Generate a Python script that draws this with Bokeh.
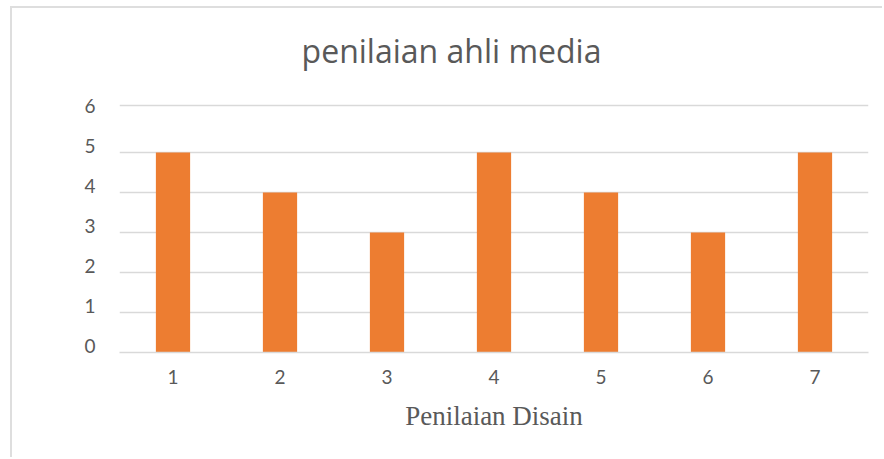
from bokeh.plotting import figure
from bokeh.models import FixedTicker, Label
from bokeh.embed import file_html
from bokeh.resources import INLINE

categories = ["1", "2", "3", "4", "5", "6", "7"]
values = [5, 4, 3, 5, 4, 3, 5]
y_ticks = [0, 1, 2, 3, 4, 5, 6]
title_text = "penilaian ahli media"
x_label = "Penilaian Disain"

# the reference draws its value labels a little above each gridline,
# and its top gridline a little higher than a linear step
label_lift = 0.175
top_grid = 6.175

p = figure(
    x_range=categories,
    y_range=(0, 8.6),
    width=872,
    height=451,
    output_backend="svg",
    toolbar_location=None,
    min_border_left=107,
    min_border_right=16,
    min_border_top=0,
    min_border_bottom=107,
)

p.vbar(x=categories, top=values, width=0.32, color="#ED7D31", line_color=None)

title = Label(
    x=332, y=302, x_units="screen", y_units="screen",
    text=title_text, text_align="center", text_baseline="alphabetic",
    text_font="Open Sans", text_font_size="32px", text_color="#595959",
)
p.add_layout(title)

p.outline_line_color = None
p.background_fill_color = "white"
p.border_fill_color = "white"

p.xgrid.grid_line_color = None
p.ygrid.grid_line_color = "#d9d9d9"
p.ygrid.grid_line_width = 1.5
p.ygrid.ticker = FixedTicker(ticks=y_ticks[:-1] + [top_grid])

label_positions = [t + label_lift for t in y_ticks]
p.yaxis.ticker = FixedTicker(ticks=label_positions)
p.yaxis.major_label_overrides = {pos: str(t) for pos, t in zip(label_positions, y_ticks)}
p.yaxis.axis_line_color = None
p.yaxis.major_tick_line_color = None
p.yaxis.minor_tick_line_color = None
p.yaxis.major_label_text_font = "Lato"
p.yaxis.major_label_text_font_size = "19px"
p.yaxis.major_label_text_color = "#595959"
p.yaxis.major_label_standoff = 18

p.xaxis.axis_line_color = "#d9d9d9"
p.xaxis.axis_line_width = 1.5
p.xaxis.major_tick_line_color = None
p.xaxis.minor_tick_line_color = None
p.xaxis.major_label_text_font = "Lato"
p.xaxis.major_label_text_font_size = "19px"
p.xaxis.major_label_text_color = "#595959"
p.xaxis.major_label_standoff = 11
p.xaxis.axis_label = x_label
p.xaxis.axis_label_text_font = "Liberation Serif"
p.xaxis.axis_label_text_font_size = "27px"
p.xaxis.axis_label_text_font_style = "normal"
p.xaxis.axis_label_text_color = "#595959"
p.xaxis.axis_label_standoff = 14

p.styles = {"border-top": "2px solid #dedede", "border-left": "2px solid #dedede",
            "margin-left": "10px", "margin-top": "6px"}

open("out.html", "w").write(file_html(p, INLINE))
